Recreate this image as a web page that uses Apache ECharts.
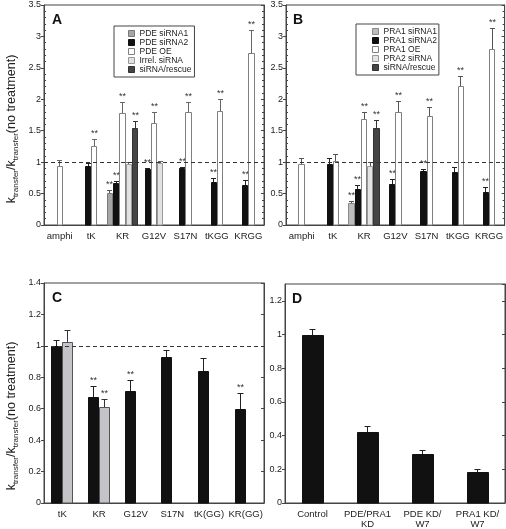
<!DOCTYPE html>
<html><head><meta charset="utf-8">
<script src="https://cdn.jsdelivr.net/npm/echarts@6/dist/echarts.min.js"></script>
<style>html,body{margin:0;padding:0;background:#fff}#c{width:506px;height:529px}</style>
</head><body><div id="c"></div>
<script>
// ---------- DATA ----------
const catsAB = ['amphi', 'tK', 'KR', 'G12V', 'S17N', 'tKGG', 'KRGG'];
// Panel A (PDE)
const aSi1 = [null, null, 0.51, null, null, null, null];
const aSi1Err = [null, null, 0.05, null, null, null, null];
const aSi1Sig = [0, 0, 1, 0, 0, 0, 0];
const aSi2 = [null, 0.94, 0.67, 0.89, 0.90, 0.68, 0.63];
const aSi2Err = [null, 0.05, 0.03, 0.02, 0.02, 0.06, 0.09];
const aSi2Sig = [0, 0, 1, 1, 1, 1, 1];
const aOE = [0.94, 1.25, 1.78, 1.62, 1.79, 1.82, 2.73];
const aOEErr = [0.10, 0.12, 0.17, 0.18, 0.17, 0.18, 0.37];
const aOESig = [0, 1, 1, 1, 1, 1, 1];
const aIrr = [null, null, 0.97, 0.98, null, null, null];
const aIrrErr = [null, null, 0.04, 0.04, null, null, null];
const aIrrSig = [0, 0, 0, 0, 0, 0, 0];
const aRes = [null, null, 1.54, null, null, null, null];
const aResErr = [null, null, 0.12, null, null, null, null];
const aResSig = [0, 0, 1, 0, 0, 0, 0];
// Panel B (PRA1)
const bSi1 = [null, null, 0.345, null, null, null, null];
const bSi1Err = [null, null, 0.03, null, null, null, null];
const bSi1Sig = [0, 0, 1, 0, 0, 0, 0];
const bSi2 = [null, 0.965, 0.58, 0.65, 0.86, 0.85, 0.52];
const bSi2Err = [null, 0.10, 0.05, 0.08, 0.03, 0.07, 0.09];
const bSi2Sig = [0, 0, 1, 1, 1, 0, 1];
const bOE = [0.965, 1.02, 1.68, 1.80, 1.73, 2.21, 2.80];
const bOEErr = [0.095, 0.11, 0.12, 0.18, 0.15, 0.16, 0.33];
const bOESig = [0, 0, 1, 1, 1, 1, 1];
const bPra2 = [null, null, 0.94, null, null, null, null];
const bPra2Err = [null, null, 0.06, null, null, null, null];
const bPra2Sig = [0, 0, 0, 0, 0, 0, 0];
const bRes = [null, null, 1.55, null, null, null, null];
const bResErr = [null, null, 0.12, null, null, null, null];
const bResSig = [0, 0, 1, 0, 0, 0, 0];
// Panel C
const catsC = ['tK', 'KR', 'G12V', 'S17N', 'tK(GG)', 'KR(GG)'];
const cKD = [1.0, 0.674, 0.713, 0.93, 0.84, 0.60];
const cKDErr = [0.04, 0.07, 0.067, 0.045, 0.085, 0.10];
const cKDSig = [0, 1, 1, 0, 0, 1];
const cAlt = [1.025, 0.613, null, null, null, null];
const cAltErr = [0.075, 0.052, null, null, null, null];
const cAltSig = [0, 1, 0, 0, 0, 0];
// Panel D
const catsD = ['Control', 'PDE/PRA1\nKD', 'PDE KD/\nW7', 'PRA1 KD/\nW7'];
const dVal = [1.0, 0.42, 0.29, 0.185];
const dErr = [0.035, 0.04, 0.025, 0.015];
const dSig = [0, 0, 0, 0];

// ---------- CONFIG ----------
const FONT = 'Liberation Sans, Arial, sans-serif';
const panels = [
  { letter: 'A', cats: catsAB, packed: true, frac: 0.2, cap: 2.5,
    grid: { left: 44, top: 5, width: 220, height: 220 }, max: 3.5, interval: 0.5, minor: true, ref: true,
    yName: true, namePad: 28,
    legend: { left: 114, top: 26, padding: [3, 3, 3, 14] },
    series: [
      { name: 'PDE siRNA1', v: aSi1, e: aSi1Err, s: aSi1Sig, fill: '#a6a6a6', stroke: '#7a7a7a', err: '#555' },
      { name: 'PDE siRNA2', v: aSi2, e: aSi2Err, s: aSi2Sig, fill: '#111', stroke: '#111', err: '#222' },
      { name: 'PDE OE', v: aOE, e: aOEErr, s: aOESig, fill: '#fff', stroke: '#808080', err: '#666' },
      { name: 'Irrel. siRNA', v: aIrr, e: aIrrErr, s: aIrrSig, fill: '#e2e2e2', stroke: '#999', err: '#666' },
      { name: 'siRNA/rescue', v: aRes, e: aResErr, s: aResSig, fill: '#454545', stroke: '#333', err: '#333' }
    ] },
  { letter: 'B', cats: catsAB, packed: true, frac: 0.2, cap: 2.5,
    grid: { left: 286, top: 5, width: 219, height: 220 }, max: 3.5, interval: 0.5, minor: true, ref: true,
    yName: false,
    legend: { left: 356, top: 24, padding: [3, 2, 3, 16] },
    series: [
      { name: 'PRA1 siRNA1', v: bSi1, e: bSi1Err, s: bSi1Sig, fill: '#bdbdbd', stroke: '#888', err: '#555' },
      { name: 'PRA1 siRNA2', v: bSi2, e: bSi2Err, s: bSi2Sig, fill: '#111', stroke: '#111', err: '#222' },
      { name: 'PRA1 OE', v: bOE, e: bOEErr, s: bOESig, fill: '#fff', stroke: '#808080', err: '#555' },
      { name: 'PRA2 siRNA', v: bPra2, e: bPra2Err, s: bPra2Sig, fill: '#e4e4e4', stroke: '#999', err: '#555' },
      { name: 'siRNA/rescue ', v: bRes, e: bResErr, s: bResSig, fill: '#454545', stroke: '#333', err: '#333' }
    ] },
  { letter: 'C', cats: catsC, packed: false, frac: 0.3, cap: 3,
    grid: { left: 44, top: 283, width: 220, height: 220 }, max: 1.4, interval: 0.2, minor: false, ref: true,
    yName: true, namePad: 46,
    series: [
      { name: 'C1', v: cKD, e: cKDErr, s: cKDSig, fill: '#111', stroke: '#111', err: '#222' },
      { name: 'C2', v: cAlt, e: cAltErr, s: cAltSig, fill: '#c4c4c8', stroke: '#555', err: '#333' }
    ] },
  { letter: 'D', cats: catsD, packed: false, frac: 0.4, cap: 3,
    grid: { left: 285, top: 284, width: 220, height: 219 }, max: 1.3, interval: 0.2, minor: false, ref: false,
    yName: false,
    series: [
      { name: 'D1', v: dVal, e: dErr, s: dSig, fill: '#111', stroke: '#111', err: '#222' }
    ] }
];

function makeRender(p, si) {
  return function (params, api) {
    const ci = api.value(0), v = api.value(1), e = api.value(2), sg = api.value(3);
    let n, k;
    if (p.packed) {
      const pres = [];
      p.series.forEach((s, j) => { if (s.v[ci] != null) pres.push(j); });
      n = pres.length; k = pres.indexOf(si);
    } else { n = p.series.length; k = si; }
    const catW = api.size([1, 0])[0];
    const bw = catW * p.frac;
    const c0 = api.coord([ci, 0]);
    const c1 = api.coord([ci, v]);
    const c2 = api.coord([ci, v + e]);
    const cx = c0[0] + (k - (n - 1) / 2) * bw;
    const s = p.series[si];
    const x0 = Math.round(cx - bw / 2), x1 = Math.round(cx + bw / 2);
    const yb = Math.round(c0[1]), yt = Math.round(c1[1]), ye = Math.round(c2[1]);
    const lx = Math.floor(cx) + 0.5;
    const children = [
      { type: 'line', shape: { x1: lx, y1: yt, x2: lx, y2: ye }, style: { stroke: s.err, lineWidth: 1 } },
      { type: 'line', shape: { x1: lx - p.cap, y1: ye + 0.5, x2: lx + p.cap, y2: ye + 0.5 }, style: { stroke: s.err, lineWidth: 1 } },
      { type: 'rect', shape: { x: x0 + 0.5, y: yt + 0.5, width: x1 - x0 - 1, height: yb - yt - 0.5 },
        style: { fill: s.fill, stroke: s.stroke, lineWidth: 1 } }
    ];
    if (sg) children.push({ type: 'text', style: { text: '**', x: lx, y: ye - 1, fill: '#333',
      font: '9px ' + FONT, align: 'center', verticalAlign: 'bottom' } });
    return { type: 'group', children };
  };
}

const grids = [], xAxes = [], yAxes = [], series = [], legends = [], graphics = [];
panels.forEach((p, pi) => {
  grids.push(Object.assign({ show: true, borderColor: '#444', borderWidth: 1 }, p.grid));
  xAxes.push({ type: 'category', gridIndex: pi, data: p.cats, boundaryGap: true,
    axisLine: { lineStyle: { color: '#444' } }, axisTick: { show: false },
    axisLabel: { interval: 0, fontSize: 9.5, fontFamily: FONT, color: '#222', margin: 6, lineHeight: 10 } });
  const base = { type: 'value', gridIndex: pi, min: 0, max: p.max, interval: p.interval, splitLine: { show: false } };
  const mainIdx = yAxes.length;
  const main = Object.assign({}, base, { position: 'left',
    axisLine: { show: true, lineStyle: { color: '#444' } },
    axisTick: { show: true, inside: false, length: 3, lineStyle: { color: '#444' } },
    axisLabel: { fontSize: 9, fontFamily: FONT, color: '#222', margin: 3, showMaxLabel: p.max !== 1.3 } });
  if (p.yName) {
    Object.assign(main, {
      name: '{m|k}{s|transfer}{m|/k}{s|transfer}{m|(no treatment)}',
      nameLocation: 'middle', nameRotate: 90, nameGap: 24,
      nameTextStyle: { color: '#222', padding: [0, p.namePad, 0, 0],
        rich: { m: { fontSize: 12.5, fontFamily: FONT, color: '#222' },
                s: { fontSize: 8, fontFamily: FONT, color: '#222', padding: [9, 0, 0, 0] } } } });
  }
  yAxes.push(main);
  if (p.minor) {
    yAxes.push(Object.assign({}, base, { position: 'left', axisLine: { show: false },
      axisTick: { show: false, inside: true }, axisLabel: { show: false },
      minorTick: { show: true, splitNumber: 5, length: 2, lineStyle: { color: '#444' } } }));
  }
  yAxes.push(Object.assign({}, base, { position: 'right',
    axisLine: { show: true, lineStyle: { color: '#444' } },
    axisTick: { show: true, inside: true, length: 3, lineStyle: { color: '#444' } },
    axisLabel: { show: false },
    minorTick: { show: p.minor, splitNumber: 5, length: 2, lineStyle: { color: '#444' } } }));

  p.series.forEach((s, si) => {
    const data = p.cats.map((c, i) => s.v[i] == null ? null : [i, s.v[i], s.e[i], s.s[i]]).filter(d => d);
    const ser = { type: 'custom', name: s.name, xAxisIndex: pi, yAxisIndex: mainIdx,
      renderItem: makeRender(p, si), data: data, encode: { x: 0, y: 1 }, clip: false,
      itemStyle: { color: s.fill, borderColor: s.stroke, borderWidth: 1 } };
    if (si === 0 && p.ref) {
      ser.markLine = { silent: true, symbol: ['none', 'none'], label: { show: false },
        lineStyle: { type: [4, 3], color: '#333', width: 1 }, data: [{ yAxis: 1 }] };
    }
    series.push(ser);
  });

  if (p.legend) {
    legends.push(Object.assign({ orient: 'vertical', icon: 'rect', itemWidth: 6, itemHeight: 6, itemGap: 0,
      borderColor: '#444', borderWidth: 1, selectedMode: false,
      textStyle: { fontSize: 8.5, fontFamily: FONT, color: '#222', lineHeight: 8 },
      data: p.series.map(s => ({ name: s.name, itemStyle: { color: s.fill, borderColor: s.stroke, borderWidth: 1 } })),
      formatter: name => name.trim() }, p.legend));
  }
  graphics.push({ type: 'text', left: p.grid.left + (pi % 2 ? 7 : 8), top: p.grid.top + 8,
    style: { text: p.letter, font: 'bold 14px ' + FONT, fill: '#111' } });
});

const chart = echarts.init(document.getElementById('c'), null, { renderer: 'canvas' });
chart.setOption({ animation: false, backgroundColor: '#fff', grid: grids, xAxis: xAxes, yAxis: yAxes,
  series: series, legend: legends, graphic: graphics });
</script></body></html>
